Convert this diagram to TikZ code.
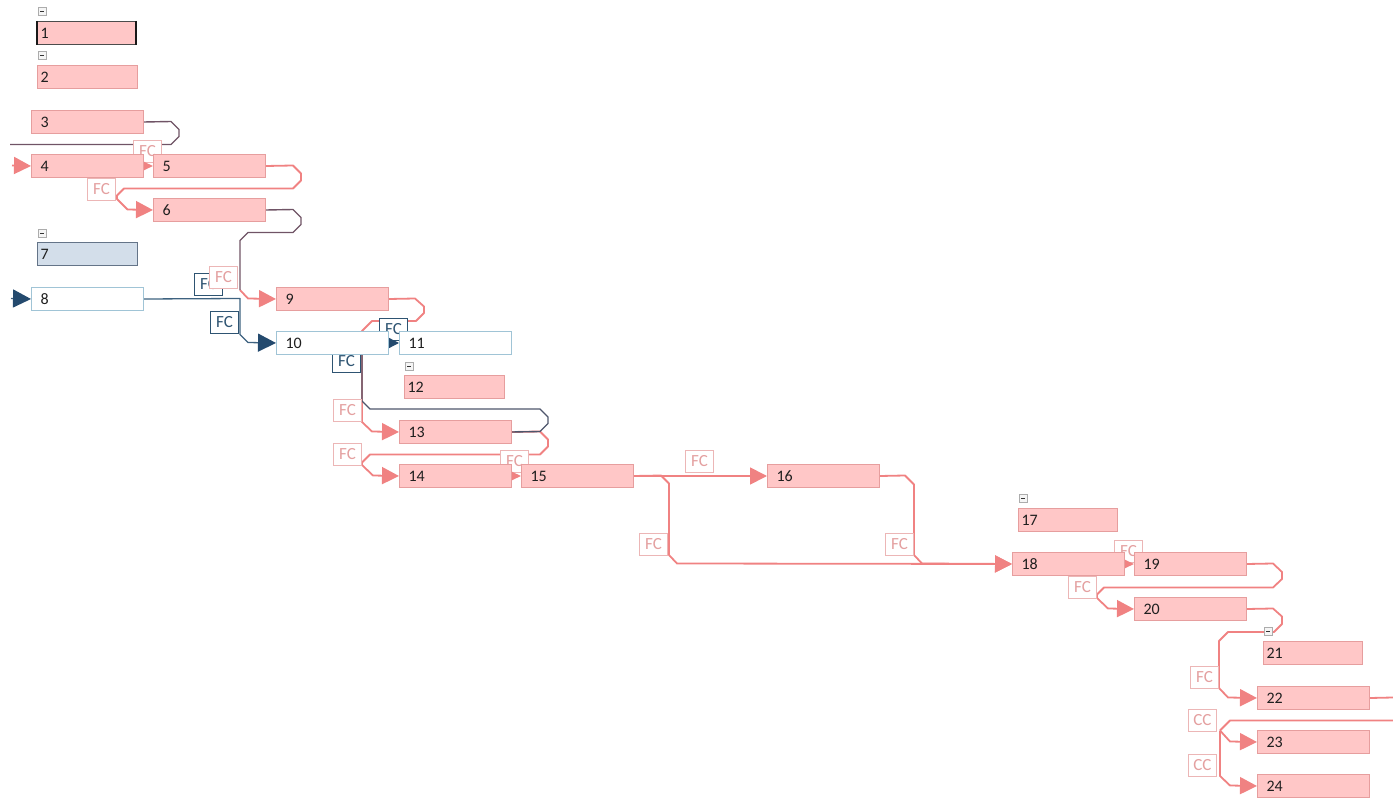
\documentclass[tikz,border=0pt]{standalone}
\usepackage{fontspec}
\setmainfont{Carlito}
\usetikzlibrary{arrows.meta,calc}
\pgfdeclarelayer{links}
\pgfdeclarelayer{labels}
\pgfsetlayers{links,labels,main}
\definecolor{taskfill}{RGB}{255,199,199}
\definecolor{taskedge}{RGB}{230,158,158}
\definecolor{linkpink}{RGB}{240,130,130}
\definecolor{linkmauve}{RGB}{112,84,102}
\definecolor{linkslate}{RGB}{78,86,108}
\definecolor{linkblue}{RGB}{36,74,110}
\definecolor{lineblue}{RGB}{62,98,128}
\definecolor{whiteedge}{RGB}{160,196,214}
\definecolor{greyfill}{RGB}{211,222,234}
\definecolor{greyedge}{RGB}{100,116,136}
\definecolor{fcpink}{RGB}{228,160,160}
\definecolor{fcpinkedge}{RGB}{236,182,182}
\definecolor{fcblue}{RGB}{46,84,114}
\begin{document}
\begin{tikzpicture}[x=1pt,y=-1pt,
  font=\fontsize{16}{18}\selectfont,
  box/.style={draw=taskedge, fill=taskfill, line width=1pt, anchor=north west,
    minimum height=23pt, inner ysep=0pt, inner xsep=9pt, text width=94pt,
    align=left, text=black!88},
  sumbox/.style={box, inner xsep=3pt},
  openbox/.style={box, fill=white, draw=whiteedge},
  greybox/.style={sumbox, fill=greyfill, draw=greyedge},
  fc/.style={draw=fcpinkedge, fill=white, text=fcpink, line width=0.9pt,
    anchor=north west, minimum width=28pt, minimum height=22pt, inner sep=0pt,
    font=\fontsize{17}{19}\selectfont},
  fcb/.style={fc, draw=fcblue, text=fcblue},
  minus/.style={draw=gray!65, fill=gray!8, line width=0.6pt, anchor=north west,
    minimum size=8pt, inner sep=0pt,
    path picture={\draw[line width=1pt, black!80]
      ([xshift=-2pt]path picture bounding box.center) --
      ([xshift=2pt]path picture bounding box.center);}},
  pinklink/.style={draw=linkpink, line width=1.8pt, line join=round},
  bigpink/.style={pinklink, -{Triangle[length=17pt,width=17pt]}},
  smallpink/.style={pinklink, -{Triangle[length=10pt,width=9pt]}},
  mauvelink/.style={draw=linkmauve, line width=1.4pt, line join=round},
  slatelink/.style={draw=linkslate, line width=1.4pt, line join=round},
  bluelink/.style={draw=lineblue, line width=1.3pt, line join=round},
  bigblue/.style={bluelink, -{Triangle[length=18pt,width=18pt,color=linkblue]}},
  smallblue/.style={bluelink, -{Triangle[length=10pt,width=10pt,color=linkblue]}}
]
\useasboundingbox (0,0) rectangle (1393,799);

% ---- task boxes ----
\node[sumbox, text width=92pt, draw=black!70] (t1) at (37,21) {1};
\draw[line width=2.6pt, black!90] (t1.north west) -- (t1.south west);
\draw[line width=2.6pt, black!90] (t1.north east) -- (t1.south east);
\node[sumbox] (t2) at (37,65) {2};
\node[box] (t3) at (31,110) {3};
\node[box] (t4) at (31,154) {4};
\node[box] (t5) at (153,154) {5};
\node[box] (t6) at (153,198) {6};
\node[greybox] (t7) at (37,242) {7};
\node[openbox] (t8) at (31,287) {8};
\node[box] (t9) at (276,287) {9};
\node[openbox] (t10) at (276,331) {10};
\node[openbox] (t11) at (399,331) {11};
\node[sumbox] (t12) at (404,375) {12};
\node[box] (t13) at (399,420) {13};
\node[box] (t14) at (399,464) {14};
\node[box] (t15) at (521,464) {15};
\node[box] (t16) at (767,464) {16};
\node[sumbox, text width=93pt] (t17) at (1018,508) {17};
\node[box] (t18) at (1012,552) {18};
\node[box] (t19) at (1134,552) {19};
\node[box] (t20) at (1134,597) {20};
\node[sumbox, text width=93pt] (t21) at (1263,641) {21};
\node[box] (t22) at (1257,686) {22};
\node[box] (t23) at (1257,730) {23};
\node[box] (t24) at (1257,774) {24};

% collapse markers of summary rows
\node[minus] (m1) at (38,7) {};
\node[minus] (m2) at (38,51) {};
\node[minus] (m7) at (38,229) {};
\node[minus] (m12) at (405,362) {};
\node[minus] (m17) at (1019,494) {};
\node[minus] (m21) at (1264,627) {};

% free ends of links that leave the visible area, and junctions
\coordinate (off3) at (10,144.5);
\coordinate (in4) at (12,165.5);
\coordinate (in8) at (11,298.5);
\coordinate (j9) at (240,290);
\coordinate (out22) at (1393,697.5);
\coordinate (in23) at (1393,720.5);
\coordinate (cc) at (1220,730.5);

% ---- connectors, behind everything ----
\begin{pgfonlayer}{links}
% pink links
\draw[bigpink] (in4) -- (t4.west);
\draw[bigpink] (t5.east) -- (293,165.5) -- (301,173.5) -- (301,180.5) -- (293,188.5)
  -- (124,188.5) -- (117,195.5) -- (117,199) -- (127.5,209.5) -- (t6.west);
\draw[bigpink] (j9) -- (248,298.5) -- (t9.west);
\draw[bigpink] (t9.east) -- (415,298.5) -- (424,306.5) -- (424,313) -- (416,321)
  -- (372,321) -- (362,331) -- (362,422) -- (372,431.5) -- (t13.west);
\draw[bigpink] (t13.east) -- (540,431.5) -- (548,439.5) -- (548,446.5) -- (540,454.5)
  -- (370,454.5) -- (362,462.5) -- (362,465) -- (373,475.5) -- (t14.west);
\draw[bigpink] (t15.east) -- (t16.west);
\draw[bigpink] (t15.east) -- (661,475.5) -- (669,483.5) -- (669,555) -- (677,563.5) -- (t18.west);
\draw[bigpink] (t16.east) -- (905,475.5) -- (914,484.5) -- (914,555) -- (922,563.5) -- (t18.west);
\draw[bigpink] (t19.east) -- (1273,563.5) -- (1282,572) -- (1282,579) -- (1273,587.5)
  -- (1104,587.5) -- (1097,594.5) -- (1097,598) -- (1108,608.5) -- (t20.west);
\draw[bigpink] (t20.east) -- (1273,608.5) -- (1282,616.5) -- (1282,624) -- (1274,632)
  -- (1228,632) -- (1219,641) -- (1219,688) -- (1228,697.5) -- (t22.west);
\draw[pinklink] (t22.east) -- (out22);
\draw[pinklink] (in23) -- (1230,720.5) -- (cc);
\draw[bigpink] (cc) -- (1230,741.5) -- (t23.west);
\draw[bigpink] (cc) -- (1220,776) -- (1230,785.5) -- (t24.west);
% blue links
\draw[bigblue] (in8) -- (t8.west);
\draw[bigblue] (t8.east) -- (240,298.5) -- (240,334.5) -- (248,342.5) -- (t10.west);
% dark (shared) links
\draw[mauvelink] (t3.east) -- (171,121.5) -- (179,129.5) -- (179,136.5) -- (171,144.5) -- (off3);
\draw[mauvelink] (t6.east) -- (293,209.5) -- (301,217.5) -- (301,224.5) -- (293,232.5)
  -- (248,232.5) -- (240,240.5) -- (j9);
\draw[slatelink] (t13.east) -- (540,431.5) -- (548,423.5) -- (548,417) -- (540,409)
  -- (370,409) -- (362,401) -- (362,0 |- t10.south);
\end{pgfonlayer}

% ---- link type labels, above the links but below the boxes ----
\begin{pgfonlayer}{labels}
\node[fc] (fc4) at (133,140) {FC};
\node[fc] (fc6) at (87,178) {FC};
\node[fcb] (fc8) at (194,273) {FC};
\node[fc] (fc9) at (209,266) {FC};
\node[fcb] (fc10) at (210,311) {FC};
\node[fcb] (fc11) at (379,318) {FC};
\node[fcb] (fc10b) at (332,350) {FC};
\node[fc] (fc13) at (333,399) {FC};
\node[fc] (fc14) at (333,443) {FC};
\node[fc] (fc15) at (500,450) {FC};
\node[fc] (fc16) at (685,450) {FC};
\node[fc] (fc18a) at (639,533) {FC};
\node[fc] (fc18b) at (885,533) {FC};
\node[fc] (fc19) at (1114,540) {FC};
\node[fc] (fc20) at (1068,576) {FC};
\node[fc] (fc22) at (1190,666) {FC};
\node[fc] (cc23) at (1188,709) {CC};
\node[fc] (cc24) at (1188,754) {CC};
% short links between neighbouring boxes
\draw[smallpink] (t4.east) -- (t5.west);
\draw[smallblue] (t10.east) -- (t11.west);
\draw[smallpink] (t14.east) -- (t15.west);
\draw[smallpink] (t18.east) -- (t19.west);
\end{pgfonlayer}
\end{tikzpicture}
\end{document}
